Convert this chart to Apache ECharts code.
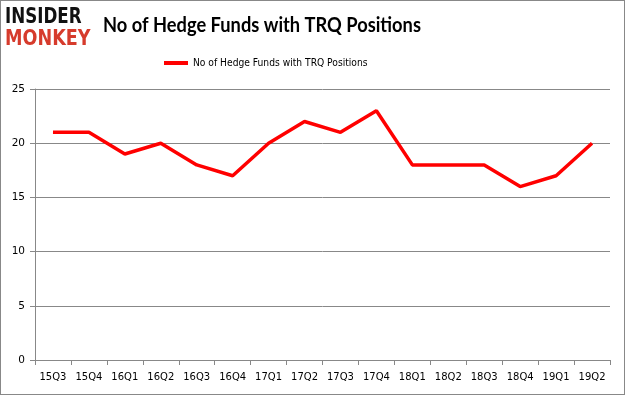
<!DOCTYPE html>
<html><head><meta charset="utf-8">
<script src="https://cdn.jsdelivr.net/npm/echarts@6/dist/echarts.min.js"></script>
<style>html,body{margin:0;padding:0;background:#fff}#c{width:625px;height:395px;box-sizing:border-box;border:1px solid #888}</style>
</head><body><div id="c"></div>
<script>
const categories = ["15Q3","15Q4","16Q1","16Q2","16Q3","16Q4","17Q1","17Q2","17Q3","17Q4","18Q1","18Q2","18Q3","18Q4","19Q1","19Q2"];
const values = [21,21,19,20,18,17,20,22,21,23,18,18,18,16,17,20];
const seriesName = "No of Hedge Funds with TRQ Positions";
const titleText = "No of Hedge Funds with TRQ Positions";

const chart = echarts.init(document.getElementById('c'));
chart.setOption({
  animation:false,
  graphic:[
    {type:'text',x:4,y:5,scaleX:0.76,style:{text:'INSIDER',font:'900 22px "DejaVu Sans"',fill:'#111'}},
    {type:'text',x:4,y:27,scaleX:0.8,style:{text:'MONKEY',font:'900 22px "DejaVu Sans"',fill:'#d63b2c'}},
    {type:'text',x:102,y:14,scaleX:0.87,style:{text:titleText,font:'bold 21px Lato',fill:'#000'}}
  ],
  legend:{top:52,left:158,itemWidth:24,itemHeight:4,itemGap:3,icon:'rect',
    textStyle:{fontFamily:'DejaVu Sans Condensed',fontSize:10.2,color:'#000'},data:[seriesName]},
  grid:{left:34,right:14,top:88,bottom:34,containLabel:false},
  xAxis:{type:'category',data:categories,boundaryGap:true,
    axisLine:{lineStyle:{color:'#888'}},axisTick:{show:true,lineStyle:{color:'#888'}},
    axisLabel:{fontFamily:'DejaVu Sans',fontSize:10,color:'#000',margin:12}},
  yAxis:{type:'value',min:0,max:25,interval:5,
    axisLine:{show:true,lineStyle:{color:'#888'}},axisTick:{show:true,lineStyle:{color:'#888'}},
    splitLine:{lineStyle:{color:'#888'}},
    axisLabel:{fontFamily:'DejaVu Sans',fontSize:10.5,color:'#000',margin:10}},
  series:[{name:seriesName,type:'line',data:values,symbol:'none',
    lineStyle:{color:'#ff0000',width:3.5},itemStyle:{color:'#ff0000'}}]
});
</script></body></html>
